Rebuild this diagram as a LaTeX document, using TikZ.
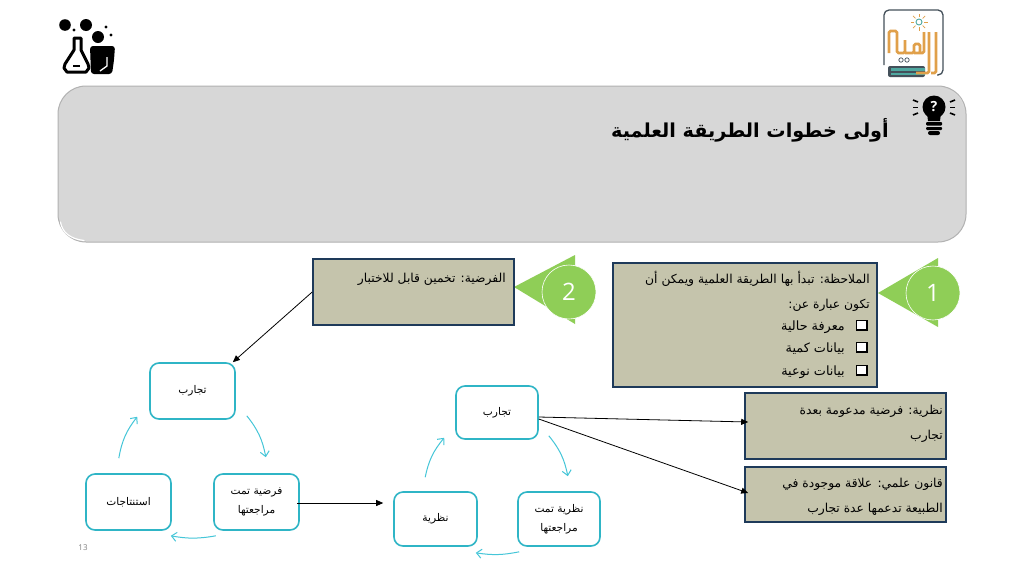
\documentclass[tikz,border=0pt]{standalone}
\usepackage{fontspec}
\usetikzlibrary{arrows.meta}
\setmainfont{Open Sans}
\newfontfamily\arabicfont[Script=Arabic]{DejaVu Sans}
\TeXXeTstate=1
\definecolor{boxfill}{HTML}{C5C4AC}
\definecolor{boxline}{HTML}{1E3A5A}
\definecolor{tealline}{HTML}{2FB5C6}
\definecolor{arcline}{HTML}{45C6D8}
\definecolor{greenfill}{HTML}{8FCE57}
\definecolor{panelfill}{HTML}{D7D7D7}
\definecolor{logoorange}{HTML}{E0A04A}
\definecolor{logoteal}{HTML}{4FA8A0}
\definecolor{logoline}{HTML}{44505A}
\newcommand{\ar}[1]{{\arabicfont\beginR #1\endR}}
\tikzset{
  notebox/.style={draw=boxline,line width=1.6pt,fill=boxfill,inner sep=0pt},
  stepnode/.style={draw=tealline,line width=1.6pt,fill=white,rounded corners=9pt,inner sep=0pt,align=center,font=\fontsize{10.6}{19}\selectfont},
  notetext/.style={inner sep=0pt,align=right,anchor=north east,font=\fontsize{12.3}{25}\selectfont},
  blackarrow/.style={draw=black,line width=0.8pt,-{Triangle[length=7pt,width=6pt]}},
  arcarrow/.style={draw=arcline,line width=1pt,-{Straight Barb[length=5pt,width=9pt]}},
  badge/.style={circle,draw=white,line width=0.6pt,fill=greenfill,minimum size=54pt,inner sep=0pt,text=white,font=\fontsize{24}{24}\selectfont},
  checkbox/.style={draw=black,line width=1.2pt,fill=white,minimum size=9.5pt,inner sep=0pt},
}
\begin{document}
\begin{tikzpicture}[x=1pt,y=-1pt]
\useasboundingbox (0,0) rectangle (1024,576);
\fill[white] (0,0) rectangle (1024,576);
% header panel
\node[draw=black!30,line width=1pt,fill=panelfill,rounded corners=28pt,minimum width=908pt,minimum height=156pt,inner sep=0pt] (panel) at (512,164) {};
\draw[white,line width=1.2pt,line cap=round] (60.5,222) .. controls (62,232) and (70,239) .. (84,240.5);
\draw[white!85!black,line width=1.2pt,line cap=round] (940,88.5) .. controls (954,90) and (962,97) .. (963.5,108);
\node[inner sep=0pt,anchor=east,font=\fontsize{19.2}{22}\selectfont\bfseries] (title) at (889,130) {\ar{أولى خطوات الطريقة العلمية}};
% bulb icon
\fill[black] (934,107) circle (11.5);
\fill[black] (927,113) -- (941,113) -- (940,121) -- (928,121) -- cycle;
\fill[black,rounded corners=1pt] (926,122) rectangle (942,125.5);
\fill[black,rounded corners=1pt] (926,127) rectangle (942,130);
\fill[black,rounded corners=2pt] (928,131) rectangle (940,135);
\node[inner sep=0pt,text=white,font=\fontsize{14}{14}\selectfont\bfseries] (qmark) at (934,107) {?};
\foreach \a/\b/\c/\d in {913/100/918/102,913/107.5/918/107.5,913/115/918/113,955/100/950/102,955/107.5/950/107.5,955/115/950/113}
  \draw[black,line width=1.6pt] (\a,\b) -- (\c,\d);
% logo
\draw[logoline,line width=1.3pt,rounded corners=5pt] (884,65) -- (884,10) -- (943,10) -- (943,75) -- (937,75);
\fill[logoline,rounded corners=2pt] (888,66) rectangle (925,77);
\fill[logoteal] (891,68) rectangle (925,70.5);
\fill[logoteal] (891,72.5) rectangle (925,75);
\draw[logoteal,line width=0.9pt] (919,22) circle (3);
\foreach \r in {0,45,...,315}
  \draw[logoorange,line width=0.7pt] (919,22)++(\r:5) -- ++(\r:3.5);
\draw[logoorange,line width=2.8pt,rounded corners=1.5pt]
  (889,53) -- (889,31) -- (897,31) -- (897,53) -- (905,53) -- (905,40) (905,53) -- (914,53) -- (914,44) -- (920,44) -- (920,53) (914,53) -- (924,53) -- (924,32);
\draw[logoorange,line width=2.8pt,rounded corners=1.5pt]
  (929,32) -- (929,73) -- (916,73) (936,32) -- (936,73) -- (931,73);
\draw[logoline,line width=0.7pt] (901,60) circle (2.2) (907,60) circle (2.2);
% flask icon
\fill[black] (65,25) circle (5.8);
\fill[black] (86,25) circle (6);
\fill[black] (98,37) circle (6);
\fill[black] (74,30) circle (1.7);
\fill[black] (106,27) circle (1.7);
\fill[black] (111,35) circle (1.7);
\path[draw=black,line width=3pt,line join=round,fill=white] (74,38) -- (74,50) -- (65,64) -- (64,68) -- (67,72) -- (86,72) -- (89,68) -- (88,64) -- (81,50) -- (81,38) -- cycle;
\draw[black,line width=1.6pt] (73,66) -- (80,66);
\fill[black,rounded corners=3pt] (90,46) -- (115,46) -- (114,60) -- (112,74) -- (91,74) -- cycle;
\draw[white,line width=1.3pt] (107,57) -- (107,66) -- (100,71);
% badges and note boxes
\fill[greenfill] (878,293) -- (938,258) -- (938,327) -- cycle;
\node[badge] (one) at (933,293) {1};
\fill[greenfill] (514,287) -- (575,255) -- (575,324) -- cycle;
\node[badge] (two) at (569,292) {2};
\node[notebox,minimum width=264pt,minimum height=124pt] (obs) at (745,325) {};
\node[notetext] (obstext) at (870,271.5) {\ar{الملاحظة: تبدأ بها الطريقة العلمية ويمكن أن}\\ \ar{تكون عبارة عن:}};
\foreach \y/\t/\n in {327/معرفة حالية/a,349/بيانات كمية/b,372/بيانات نوعية/c}{
  \node[checkbox] (chk\n) at (861.5,\y-2) {};
  \draw[black,line width=1.6pt] (chk\n.south west) -- (chk\n.south east) -- (chk\n.north east);
  \node[inner sep=0pt,anchor=east,font=\fontsize{12.8}{14}\selectfont] (lab\n) at (845,\y) {\ar{\t}};
}
\node[notebox,minimum width=201pt,minimum height=66pt] (hyp) at (413.5,292) {};
\node[notetext] (hyptext) at (506,272.5) {\ar{الفرضية: تخمين قابل للاختبار}};
\node[notebox,minimum width=201pt,minimum height=66pt] (the) at (845.5,426) {};
\node[notetext] (thetext) at (943,405) {\ar{نظرية: فرضية مدعومة بعدة}\\ \ar{تجارب}};
\node[notebox,minimum width=201pt,minimum height=55pt] (law) at (845.5,494.5) {};
\node[notetext] (lawtext) at (943,478) {\ar{قانون علمي: علاقة موجودة في}\\ \ar{الطبيعة تدعمها عدة تجارب}};
% left cycle
\node[stepnode,minimum width=85pt,minimum height=56pt] (la) at (192.5,391) {\ar{تجارب}};
\node[stepnode,minimum width=85pt,minimum height=56pt] (lb) at (256.5,502) {\ar{فرضية تمت}\\ \ar{مراجعتها}};
\node[stepnode,minimum width=85pt,minimum height=56pt] (lc) at (128.5,502) {\ar{استنتاجات}};
% right cycle
\node[stepnode,minimum width=82pt,minimum height=53pt] (ra) at (497,412.5) {\ar{تجارب}};
\node[stepnode,minimum width=82pt,minimum height=54pt] (rb) at (559,519) {\ar{نظرية تمت}\\ \ar{مراجعتها}};
\node[stepnode,minimum width=83pt,minimum height=54pt] (rc) at (435.5,519) {\ar{نظرية}};
% cycle arcs
\draw[arcarrow] ([shift={(11,-4)}]la.south east) to[bend left=14] ([shift={(30,-16)}]la.south east |- lb.north);
\draw[arcarrow] ([shift={(-53,-15)}]lc.north east) to[bend left=14] ([shift={(-12,-3)}]la.south west);
\draw[arcarrow] ([shift={(-84,5)}]lb.south east) to[bend left=10] ([shift={(-1,5)}]lc.south east);
\draw[arcarrow] ([shift={(10,-4)}]ra.south east) to[bend left=14] ([shift={(29,-15)}]ra.south east |- rb.north);
\draw[arcarrow] ([shift={(32,-14)}]rc.north west) to[bend left=14] ([shift={(-11,-2)}]ra.south west);
\draw[arcarrow] ([shift={(2,5)}]rb.south west) to[bend left=10] ([shift={(-2,6)}]rc.south east);
% black connectors
\draw[blackarrow] (hyp.west) -- ([shift={(-3,0)}]la.north east);
\draw[blackarrow] ([shift={(-3,1)}]lb.east) -- ([shift={(-10,-16)}]rc.west);
\draw[blackarrow] ([shift={(0,4.5)}]ra.east) -- ([shift={(4,-4)}]the.west);
\draw[blackarrow] ([shift={(0,6.5)}]ra.east) -- ([shift={(4,-1.5)}]law.west);
% page number
\node[inner sep=0pt,text=black!50,font=\fontsize{8}{8}\selectfont] (pg) at (83,548) {13};
\end{tikzpicture}
\end{document}
